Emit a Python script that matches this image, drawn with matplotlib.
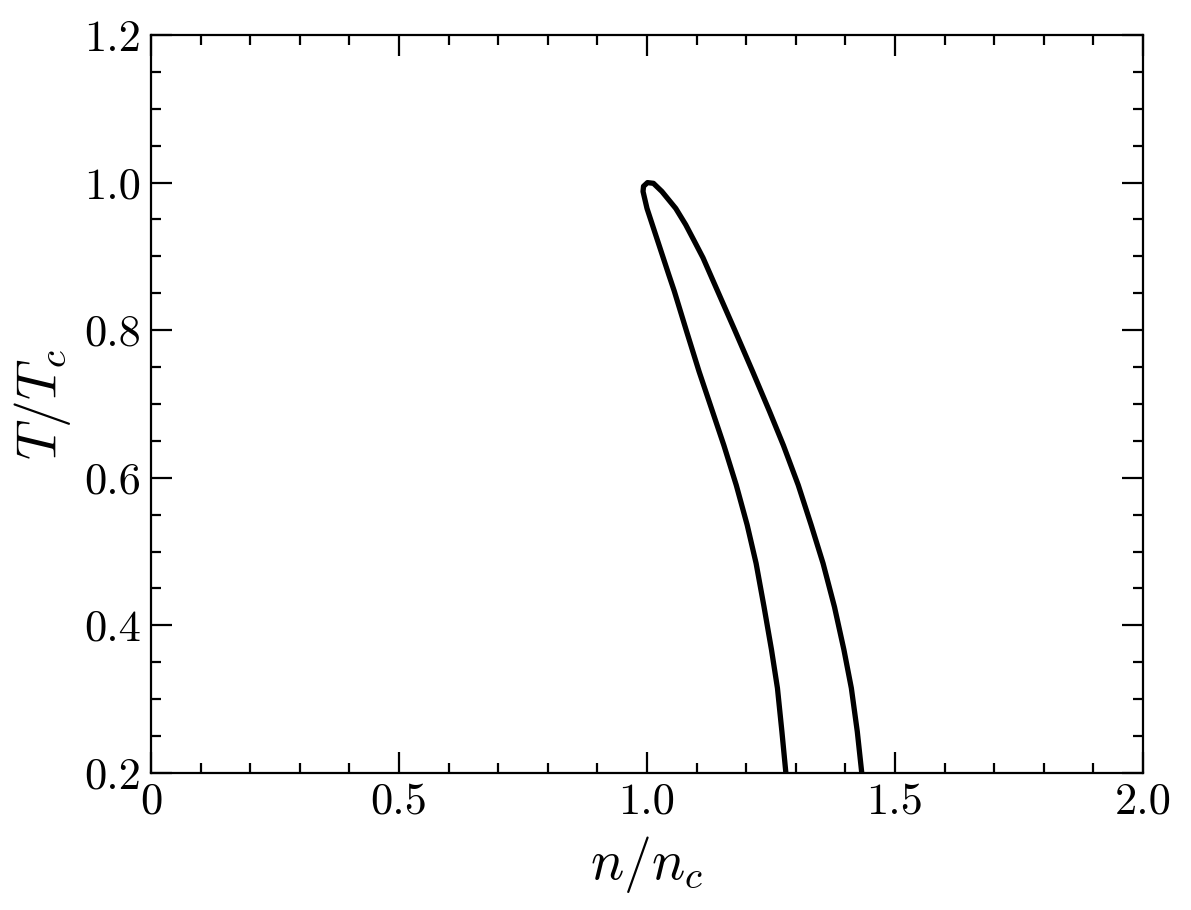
import matplotlib
matplotlib.use('Agg')
import matplotlib.pyplot as plt
from matplotlib.ticker import MultipleLocator

# coexistence curve: left branch bottom -> tip, then right branch tip -> bottom
n_left = [1.280, 1.272, 1.263, 1.251, 1.236, 1.220, 1.202, 1.180, 1.155, 1.128, 1.105, 1.080,
          1.055, 1.044, 1.022, 1.000, 0.992, 0.993, 1.001]
T_left = [0.200, 0.256, 0.315, 0.367, 0.425, 0.484, 0.536, 0.590, 0.644, 0.698, 0.744, 0.798,
          0.853, 0.875, 0.920, 0.965, 0.988, 0.995, 1.000]
n_right = [1.013, 1.030, 1.058, 1.078, 1.096, 1.113, 1.128, 1.177, 1.213, 1.247, 1.275, 1.305,
           1.331, 1.355, 1.378, 1.397, 1.412, 1.424, 1.433]
T_right = [0.999, 0.988, 0.965, 0.943, 0.920, 0.898, 0.875, 0.800, 0.744, 0.690, 0.644, 0.590,
           0.536, 0.484, 0.425, 0.367, 0.315, 0.256, 0.200]

xticks = [0, 0.5, 1.0, 1.5, 2.0]
xticklabels = ['0', '0.5', '1.0', '1.5', '2.0']
yticks = [0.2, 0.4, 0.6, 0.8, 1.0, 1.2]
yticklabels = ['0.2', '0.4', '0.6', '0.8', '1.0', '1.2']

plt.rcParams['font.family'] = 'serif'
plt.rcParams['font.serif'] = ['cmr10']
plt.rcParams['mathtext.fontset'] = 'cm'
plt.rcParams['axes.unicode_minus'] = False

fig = plt.figure(figsize=(1191 / 200, 910 / 200), dpi=200)
ax = fig.add_axes([151 / 1191, 1 - 773 / 910, (1143 - 151) / 1191, (773 - 35) / 910])

ax.plot(n_left + n_right, T_left + T_right, color='black', lw=1.9, solid_joinstyle='round')

ax.set_xlim(0, 2.0)
ax.set_ylim(0.2, 1.2)
ax.set_xticks(xticks)
ax.set_xticklabels(xticklabels)
ax.set_yticks(yticks)
ax.set_yticklabels(yticklabels)
ax.xaxis.set_minor_locator(MultipleLocator(0.1))
ax.yaxis.set_minor_locator(MultipleLocator(0.05))
ax.tick_params(which='both', direction='in', top=True, right=True, labelsize=16)
ax.tick_params(which='major', length=7.5, width=0.8)
ax.tick_params(which='minor', length=3.6, width=0.8)
for s in ax.spines.values():
    s.set_linewidth(0.8)

ax.set_xlabel(r'$n/n_c$', fontsize=20)
ax.set_ylabel(r'$T/T_c$', fontsize=20)

fig.savefig('out.png', dpi=200)
